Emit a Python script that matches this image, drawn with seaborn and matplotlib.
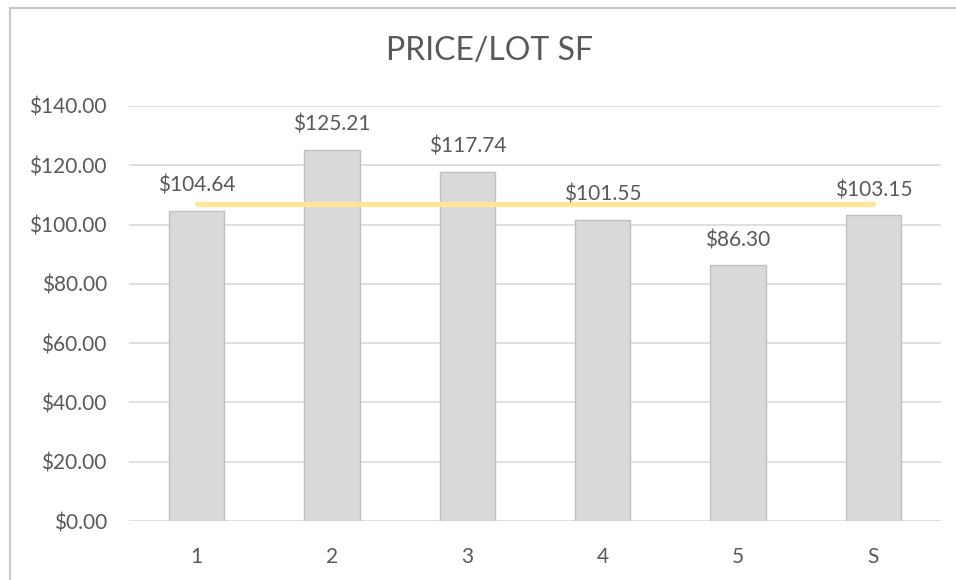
import matplotlib
matplotlib.use("Agg")
import matplotlib.pyplot as plt
import seaborn as sns
import pandas as pd
from matplotlib.patches import Rectangle

categories = ["1", "2", "3", "4", "5", "S"]
prices = [104.64, 125.21, 117.74, 101.55, 86.30, 103.15]
average_price = 107.0
y_ticks = [0, 20, 40, 60, 80, 100, 120, 140]
title = "PRICE/LOT SF"

sns.set_theme(style="white")
plt.rcParams["font.family"] = ["Lato", "DejaVu Sans"]

TEXT = "#595959"
GRID = "#D9D9D9"

fig = plt.figure(figsize=(9.56, 5.8), dpi=100)
ax = fig.add_axes([129 / 956, 1 - 521 / 580, (941 - 129) / 956, (521 - 106) / 580])

df = pd.DataFrame({"cat": categories, "price": prices})
sns.barplot(data=df, x="cat", y="price", order=categories, width=0.41,
            color="#D9D9D9", saturation=1, edgecolor="#BFBFBF", linewidth=1.0,
            ax=ax, zorder=2)

xs = list(range(len(categories)))
ax.plot(xs, [average_price] * len(xs), color="#FFE699", lw=3.8,
        solid_capstyle="round", zorder=3)

for x, v in zip(xs, prices):
    ax.annotate(f"${v:,.2f}", xy=(x, v), xytext=(0, 18), textcoords="offset points",
                ha="center", va="center", fontsize=15, color=TEXT, zorder=4)

ax.set_ylim(0, 140)
ax.set_xlim(-0.5, len(categories) - 0.5)
ax.set_yticks(y_ticks)
ax.set_yticklabels([f"${t:,.2f}" for t in y_ticks])
ax.yaxis.grid(True, color=GRID, lw=1.2, zorder=0)
ax.set_axisbelow(True)
for s in ax.spines.values():
    s.set_visible(False)
ax.tick_params(axis="both", length=0, labelsize=15, labelcolor=TEXT)
ax.tick_params(axis="y", pad=16)
ax.tick_params(axis="x", pad=19)
ax.set_xlabel("")
ax.set_ylabel("")

fig.text(489.5 / 956, 1 - 51 / 580, title, ha="center", va="center",
         fontsize=23, color=TEXT)

fig.patches.append(Rectangle((9.5 / 956, -0.1), 1.2, 1 - 7.5 / 580 + 0.1,
                             transform=fig.transFigure, fill=False,
                             edgecolor="#C8C8C8", lw=1.5, figure=fig))

fig.savefig("out.png", dpi=100, facecolor="white")
